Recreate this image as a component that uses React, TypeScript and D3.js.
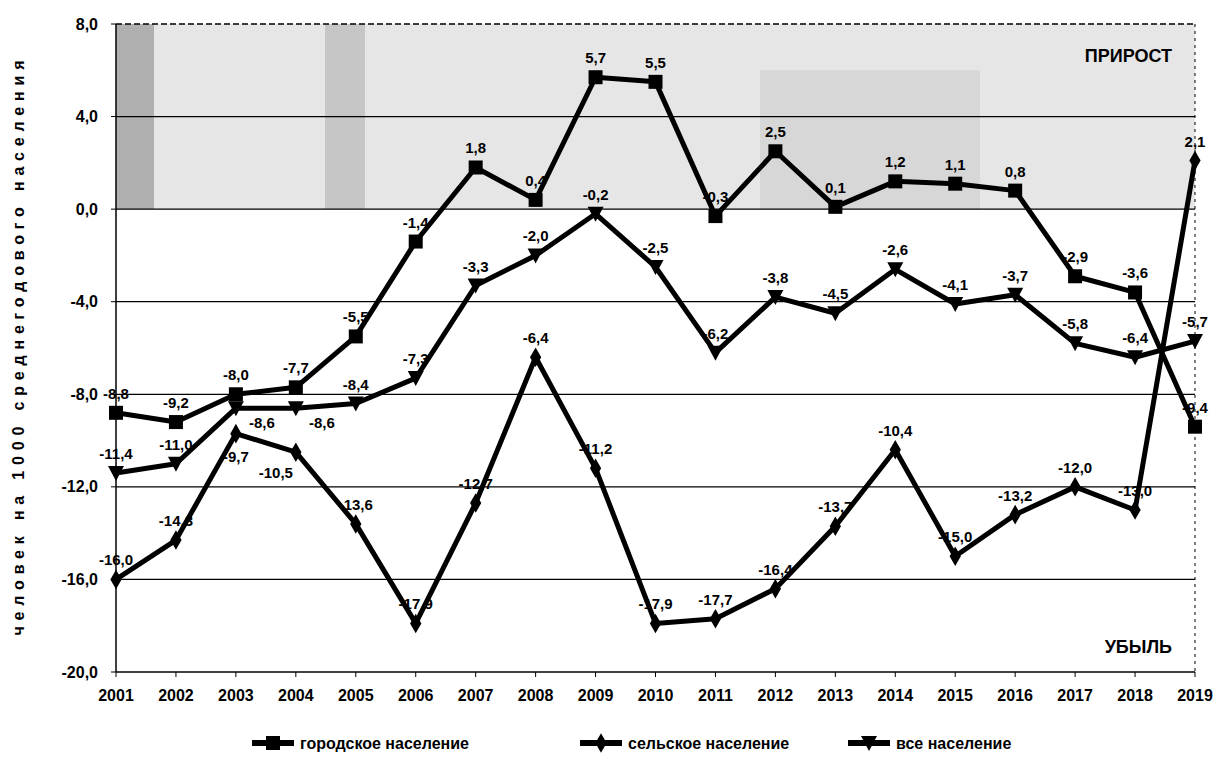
import React from 'react';
import * as d3 from 'd3';

const years = ['2001', '2002', '2003', '2004', '2005', '2006', '2007', '2008', '2009', '2010',
  '2011', '2012', '2013', '2014', '2015', '2016', '2017', '2018', '2019'];

const urban = [-8.8, -9.2, -8.0, -7.7, -5.5, -1.4, 1.8, 0.4, 5.7, 5.5,
  -0.3, 2.5, 0.1, 1.2, 1.1, 0.8, -2.9, -3.6, -9.4];
const rural = [-16.0, -14.3, -9.7, -10.5, -13.6, -17.9, -12.7, -6.4, -11.2, -17.9,
  -17.7, -16.4, -13.7, -10.4, -15.0, -13.2, -12.0, -13.0, 2.1];
const total = [-11.4, -11.0, -8.6, -8.6, -8.4, -7.3, -3.3, -2.0, -0.2, -2.5,
  -6.2, -3.8, -4.5, -2.6, -4.1, -3.7, -5.8, -6.4, -5.7];

const yTicks = [8, 4, 0, -4, -8, -12, -16, -20];

const seriesNames = ['городское население', 'сельское население', 'все население'];

const W = 1221;
const H = 769;
const left = 116;
const right = 1195;
const top = 24;
const bottom = 672;
const font = '"Liberation Sans", Arial, sans-serif';

// label nudges where the default (above the point) collides
const labelShift: Record<string, [number, number]> = {
  'r2': [0, 28],
  'r3': [-20, 26],
  't2': [26, 20],
  't3': [26, 20],
};

const fmt = (v: number) => d3.format('.1f')(v).replace('.', ',').replace('−', '-');

function marker(kind: string, x: number, y: number, key?: string) {
  if (kind === 'square') {
    return <rect key={key} x={x - 7} y={y - 7} width={14} height={14} fill="#000" />;
  }
  if (kind === 'diamond') {
    const d = d3.symbol(d3.symbolDiamond, 110)();
    return <path key={key} d={d || ''} transform={`translate(${x},${y})`} fill="#000" />;
  }
  // downward triangle
  return <path key={key} d={`M${x - 8},${y - 7}L${x + 8},${y - 7}L${x},${y + 8}Z`} fill="#000" />;
}

export default function App() {
  const x = d3.scalePoint<string>().domain(years).range([left, right]);
  const y = d3.scaleLinear().domain([-20, 8]).range([bottom, top]);

  const line = d3.line<number>()
    .x((_, i) => x(years[i]) as number)
    .y(d => y(d));

  const series = [
    { id: 'u', name: seriesNames[0], values: urban, kind: 'square' },
    { id: 'r', name: seriesNames[1], values: rural, kind: 'diamond' },
    { id: 't', name: seriesNames[2], values: total, kind: 'triangle' },
  ];

  const legendX = [252, 580, 848];

  return (
    <svg width={W} height={H} style={{ position: 'absolute', left: 0, top: 0, background: '#fff' }}>
      {/* shaded growth zone */}
      <rect x={left} y={y(8)} width={right - left} height={y(0) - y(8)} fill="#e6e6e6" />
      <rect x={left} y={y(8)} width={38} height={y(0) - y(8)} fill="#8c8c8c" opacity={0.6} />
      <rect x={325} y={y(8)} width={40} height={y(0) - y(8)} fill="#b0b0b0" opacity={0.6} />
      <rect x={760} y={y(6)} width={220} height={y(0) - y(6)} fill="#cdcdcd" opacity={0.6} />

      {/* grid */}
      {yTicks.map(t => (
        <g key={t}>
          <line x1={left} x2={right} y1={y(t)} y2={y(t)} stroke="#000" strokeWidth={1.3}
            strokeDasharray={t === 8 ? '6 3' : undefined} />
          <line x1={left - 5} x2={left} y1={y(t)} y2={y(t)} stroke="#000" strokeWidth={1} />
          <text x={left - 18} y={y(t)} dy="0.35em" textAnchor="end" fontFamily={font}
            fontWeight="bold" fontSize={16}>{fmt(t)}</text>
        </g>
      ))}
      <line x1={left} x2={left} y1={top} y2={bottom} stroke="#000" strokeWidth={1.5} />
      <line x1={right} x2={right} y1={top} y2={bottom} stroke="#000" strokeWidth={1} strokeDasharray="3 4" />

      {years.map(yr => (
        <g key={yr}>
          <line x1={x(yr)} x2={x(yr)} y1={bottom} y2={bottom + 5} stroke="#000" />
          <text x={x(yr)} y={bottom + 29} textAnchor="middle" fontFamily={font}
            fontWeight="bold" fontSize={16}>{yr}</text>
        </g>
      ))}

      <text x={1172} y={62} textAnchor="end" fontFamily={font} fontWeight="bold" fontSize={18}>ПРИРОСТ</text>
      <text x={1172} y={653} textAnchor="end" fontFamily={font} fontWeight="bold" fontSize={18}>УБЫЛЬ</text>

      <text transform={`translate(24,${(top + bottom) / 2}) rotate(-90)`} textAnchor="middle"
        fontFamily={font} fontWeight="bold" fontSize={16} textLength={575}
        lengthAdjust="spacing">человек на 1000 среднегодового населения</text>

      {series.map(s => (
        <g key={s.name}>
          <path d={line(s.values) || ''} fill="none" stroke="#000" strokeWidth={5} strokeLinejoin="round" />
          {s.values.map((v, i) => marker(s.kind, x(years[i]) as number, y(v), s.name + i))}
          {s.values.map((v, i) => {
            const [dx, dy] = labelShift[s.id + i] || [0, -14];
            return (
              <text key={'l' + i} x={(x(years[i]) as number) + dx} y={y(v) + dy} textAnchor="middle"
                fontFamily={font} fontWeight="bold" fontSize={15}>{fmt(v)}</text>
            );
          })}
        </g>
      ))}

      {/* legend */}
      {series.map((s, i) => (
        <g key={'lg' + i}>
          <line x1={legendX[i]} x2={legendX[i] + 42} y1={743} y2={743} stroke="#000" strokeWidth={6} />
          {marker(s.kind, legendX[i] + 21, 743)}
          <text x={legendX[i] + 48} y={743} dy="0.35em" fontFamily={font} fontWeight="bold"
            fontSize={16}>{s.name}</text>
        </g>
      ))}
    </svg>
  );
}
